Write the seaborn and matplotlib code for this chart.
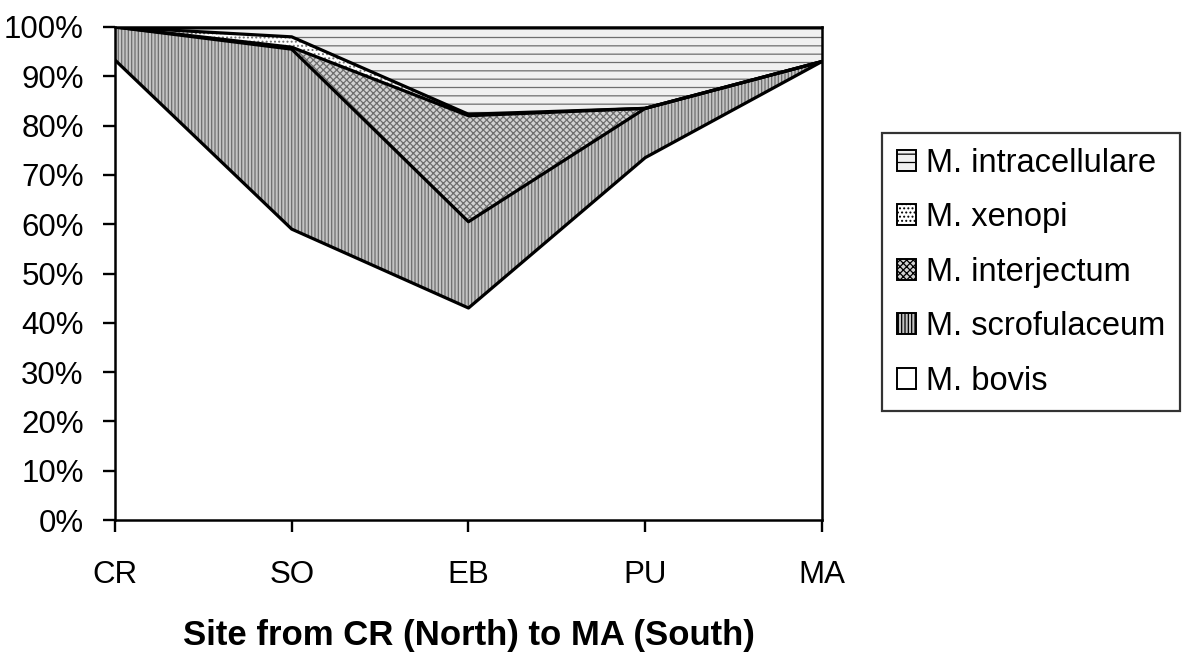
import matplotlib
matplotlib.use('Agg')
import matplotlib.pyplot as plt
import numpy as np
import seaborn as sns
from matplotlib.patches import Patch

# sites, north to south
sites = ['CR', 'SO', 'EB', 'PU', 'MA']

# share of isolates per species (%)
bovis = [93.3, 59.0, 43.0, 73.5, 93.0]
scrofulaceum = [6.7, 36.5, 17.5, 10.0, 0.0]
interjectum = [0.0, 0.4, 21.5, 0.0, 0.0]
xenopi = [0.0, 2.1, 0.3, 0.0, 0.0]
intracellulare = [0.0, 2.0, 17.7, 16.5, 7.0]

species = ['M. bovis', 'M. scrofulaceum', 'M. interjectum', 'M. xenopi', 'M. intracellulare']
series = [bovis, scrofulaceum, interjectum, xenopi, intracellulare]

sns.set_theme(style='white')
plt.rcParams['font.family'] = ['Liberation Sans', 'DejaVu Sans']
plt.rcParams['text.color'] = 'black'
plt.rcParams['hatch.color'] = '#6e6e6e'
plt.rcParams['hatch.linewidth'] = 0.9

# fill styles: face colour + hatch
styles = {
    'M. bovis': ('white', None),
    'M. scrofulaceum': ('#c4c4c4', '|||||'),
    'M. interjectum': ('#d2d2d2', 'xxxxx'),
    'M. xenopi': ('white', '....'),
    'M. intracellulare': ('#f0f0f0', '--'),
}

fig = plt.figure(figsize=(12, 6.68), dpi=100)
ax = fig.add_axes([115 / 1200, 1 - 520 / 668, (822 - 115) / 1200, (520 - 27) / 668])

x = np.arange(len(sites))
cum = np.cumsum(np.array(series), axis=0)
lower = np.zeros(len(sites))
for name, top in zip(species, cum):
    face, hatch = styles[name]
    ax.fill_between(x, lower, top, facecolor=face, hatch=hatch, edgecolor='#6e6e6e', linewidth=0)
    sns.lineplot(x=x, y=top, ax=ax, color='black', linewidth=2.3)
    lower = top

ax.set_xlim(0, 4)
ax.set_ylim(0, 100)
ax.set_xticks(x)
ax.set_xticklabels(sites)
ax.set_yticks(np.arange(0, 101, 10))
ax.set_yticklabels([f'{v}%' for v in range(0, 101, 10)])
ax.tick_params(axis='both', which='both', direction='out', length=8.5, width=1.7,
               color='black', labelsize=22.5, labelcolor='black')
ax.tick_params(axis='x', pad=20, bottom=True)
ax.tick_params(axis='y', pad=14, left=True)
for sp in ax.spines.values():
    sp.set_visible(True)
    sp.set_color('black')
    sp.set_linewidth(1.8)

ax.set_xlabel('Site from CR (North) to MA (South)', fontsize=25, fontweight='bold',
              color='black', labelpad=21)

handles = [Patch(facecolor=styles[n][0], hatch=styles[n][1], edgecolor='black', linewidth=1.4, label=n)
           for n in reversed(species)]
leg = fig.legend(handles=handles, loc='upper left', bbox_to_anchor=(882 / 1200, 1 - 133 / 668),
                 fontsize=23.5, frameon=True, fancybox=False, edgecolor='black',
                 handlelength=0.6, handleheight=0.6, handletextpad=0.3, labelspacing=0.72,
                 borderpad=0.45, borderaxespad=0)
leg.get_frame().set_linewidth(1.6)

fig.savefig('out.png', dpi=100, facecolor='white')
